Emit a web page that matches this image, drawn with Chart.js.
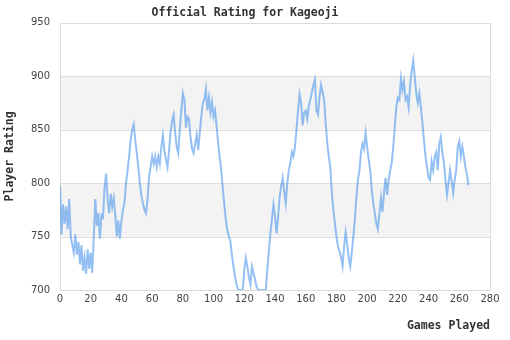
<!DOCTYPE html>
<html><head><meta charset="utf-8">
<script src="https://cdn.jsdelivr.net/npm/chart.js@4/dist/chart.umd.min.js"></script>
<style>html,body{margin:0;padding:0;background:#fff}#wrap{width:510px;height:340px}</style>
</head><body><div id="wrap"><canvas id="c" width="510" height="340"></canvas></div>
<script>
const chartTitle = "Official Rating for Kageoji";
const xTitle = "Games Played";
const yTitle = "Player Rating";
const xTicks = [0,20,40,60,80,100,120,140,160,180,200,220,240,260,280];
const yTicks = [700,750,800,850,900,950];
const shadedBands = [[750,800],[850,900]];
const ratings = [
797,752,780,762,778,757,785,750,742,735,
752,733,745,724,742,718,730,715,738,720,
735,716,750,785,760,772,748,770,768,795,
809,785,772,790,778,786,770,750,765,748,
765,775,782,800,812,825,840,850,855,840,
828,815,800,788,781,775,772,785,806,815,
825,818,825,815,825,818,834,845,830,822,
815,830,848,858,864,847,834,828,850,868,
884,878,852,862,860,843,832,828,837,845,
831,847,862,875,878,888,868,880,866,876,
862,868,853,837,824,812,795,780,765,756,
750,745,732,722,712,705,700,700,700,700,
719,730,722,712,705,722,716,710,703,700,
700,700,700,700,700,719,736,753,766,780,
769,753,768,787,797,805,792,781,800,812,
819,829,825,834,850,868,883,875,854,866,
868,860,872,878,885,892,897,868,864,881,
892,885,878,856,838,825,815,791,775,762,
750,741,736,731,722,741,754,743,730,722,
735,750,766,787,803,812,829,837,832,847,
834,822,812,794,781,772,762,757,772,786,
773,791,805,789,803,812,819,834,853,871,
880,878,898,887,895,878,881,871,892,905,
915,899,884,875,884,871,856,840,825,815,
805,803,820,812,825,829,812,837,843,828,
819,803,789,800,812,802,791,803,812,834,
839,825,834,825,815,808,798
];
const games = ratings.map((_, i) => i);

const bandPlugin = {
  id: 'bands',
  beforeDatasetsDraw(chart) {
    const {ctx, chartArea, scales:{y}} = chart;
    ctx.save();
    ctx.fillStyle = '#f3f3f3';
    shadedBands.forEach(([lo, hi]) => {
      const t = y.getPixelForValue(hi), b = y.getPixelForValue(lo);
      ctx.fillRect(chartArea.left, t, chartArea.right - chartArea.left, b - t);
    });
    ctx.strokeStyle = '#dcdcdc';
    ctx.lineWidth = 1;
    yTicks.forEach(v => {
      const p = Math.round(y.getPixelForValue(v)) + 0.5;
      ctx.beginPath(); ctx.moveTo(chartArea.left, p); ctx.lineTo(chartArea.right, p); ctx.stroke();
    });
    ctx.strokeRect(Math.round(chartArea.left)+0.5, Math.round(chartArea.top)+0.5,
      Math.round(chartArea.right - chartArea.left), Math.round(chartArea.bottom - chartArea.top));
    ctx.restore();
  }
};

new Chart(document.getElementById('c'), {
  type: 'line',
  data: {
    datasets: [{
      data: games.map((g, i) => ({x: g, y: ratings[i]})),
      borderColor: 'rgba(60,140,235,0.55)',
      borderWidth: 2,
      pointRadius: 0,
      tension: 0,
      fill: false
    }]
  },
  options: {
    responsive: false,
    animation: false,
    devicePixelRatio: 1,
    layout: {padding: {left: 0, right: 20, top: 0, bottom: 0}},
    plugins: {
      legend: {display: false},
      tooltip: {enabled: false},
      title: {
        display: true, text: chartTitle, color: '#333',
        font: {family: 'DejaVu Sans Mono', weight: 'bold', size: 11.5, lineHeight: 1.2},
        padding: {top: 6, bottom: 3}
      }
    },
    scales: {
      x: {
        type: 'linear',
        min: xTicks[0], max: xTicks[xTicks.length - 1],
        afterBuildTicks: s => { s.ticks = xTicks.map(v => ({value: v})); },
        afterFit: s => { s.height = 50; },
        grid: {display: false, drawTicks: false},
        border: {display: false},
        ticks: {color: '#444', padding: 3, font: {family: 'DejaVu Sans', size: 10}, maxRotation: 0, autoSkip: false},
        title: {display: true, text: xTitle, align: 'end', color: '#333',
          font: {family: 'DejaVu Sans Mono', weight: 'bold', size: 11.5, lineHeight: 1.2},
          padding: {top: 4, bottom: 7}}
      },
      y: {
        type: 'linear',
        min: yTicks[0], max: yTicks[yTicks.length - 1],
        afterBuildTicks: s => { s.ticks = yTicks.map(v => ({value: v})); },
        afterFit: s => { s.width = 60; },
        grid: {display: false, drawTicks: false},
        border: {display: false},
        ticks: {color: '#444', padding: 10, font: {family: 'DejaVu Sans', size: 10}},
        title: {display: true, text: yTitle, color: '#333',
          font: {family: 'DejaVu Sans Mono', weight: 'bold', size: 11.5, lineHeight: 1.2},
          padding: {top: 3, bottom: 3}}
      }
    }
  },
  plugins: [bandPlugin]
});
</script>
</body></html>
